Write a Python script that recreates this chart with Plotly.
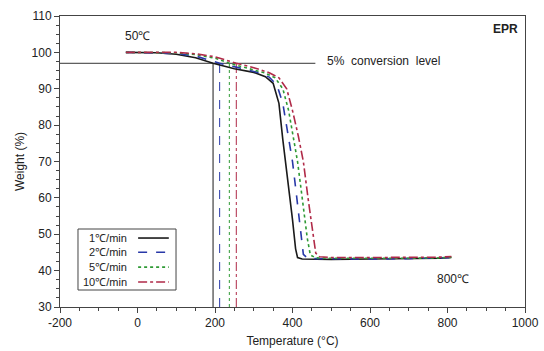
import plotly.graph_objects as go

# ---- data ----
series_names = ["1℃/min", "2℃/min", "5℃/min", "10℃/min"]

temp_1 = [-30, 50, 100, 150, 195, 250, 300, 330, 350, 365, 375, 382, 390, 400, 408, 413, 425, 500, 600, 700, 780, 810]
wt_1 = [100, 99.9, 99.5, 98.5, 97, 95.5, 94.5, 93.3, 91.5, 86, 76, 70, 64, 54, 46, 43.6, 43.2, 43.1, 43.2, 43.2, 43.4, 43.6]

temp_2 = [-30, 50, 100, 150, 212, 260, 310, 340, 360, 375, 390, 400, 410, 420, 428, 440, 500, 600, 700, 780, 810]
wt_2 = [100, 99.9, 99.7, 99.0, 97, 95.8, 94.5, 93.2, 91, 86, 77, 70, 61, 51, 44.5, 43.3, 43.2, 43.2, 43.3, 43.4, 43.6]

temp_5 = [-30, 100, 150, 200, 237, 280, 330, 355, 375, 390, 405, 413, 425, 438, 446, 460, 500, 600, 700, 780, 810]
wt_5 = [100, 99.9, 99.4, 98.4, 97, 95.8, 94.3, 93, 90, 84, 75, 70, 60, 49, 44.3, 43.5, 43.4, 43.3, 43.4, 43.5, 43.7]

temp_10 = [-30, 100, 150, 200, 255, 300, 340, 365, 385, 400, 415, 428, 440, 452, 460, 470, 500, 600, 700, 780, 810]
wt_10 = [100, 100, 99.6, 98.8, 97, 95.8, 94.4, 93, 90, 84, 77, 70, 60, 50, 44.8, 43.8, 43.6, 43.6, 43.6, 43.7, 43.9]

onset_temps = [195, 212, 237, 255]
conversion_level = 97
conversion_line_x = [-200, 459]
y_floor = 30

x_tickvals = [-200, 0, 200, 400, 600, 800, 1000]
x_ticktext = ["-200", "0", "200", "400", "600", "800", "1000"]

colors = ["#1a1a1a", "#2838a8", "#2f9a35", "#b02a48"]
dashes = ["solid", "dash", "dot", "dashdot"]

temps = [temp_1, temp_2, temp_5, temp_10]
wts = [wt_1, wt_2, wt_5, wt_10]

fig = go.Figure()

# 5% conversion level line
fig.add_trace(go.Scatter(x=conversion_line_x, y=[conversion_level, conversion_level],
                         mode="lines", line=dict(color="#333333", width=1),
                         showlegend=False, hoverinfo="skip"))

# onset verticals
for t, c, d in zip(onset_temps, colors, dashes):
    fig.add_trace(go.Scatter(x=[t, t], y=[y_floor, conversion_level], mode="lines",
                             line=dict(color=c, width=1, dash=d),
                             showlegend=False, hoverinfo="skip"))

for name, x, y, c, d in zip(series_names, temps, wts, colors, dashes):
    fig.add_trace(go.Scatter(x=x, y=y, mode="lines", name=name, showlegend=False,
                             line=dict(color=c, width=1.6, dash=d)))

# legend box (text right-aligned, sample line on the right, as in the reference)
legend_shapes = [dict(type="rect", xref="paper", yref="paper", x0=0.0387, x1=0.2495,
                      y0=0.0584, y1=0.268, line=dict(color="#444", width=1),
                      fillcolor="white", layer="above")]
legend_annots = []
row_y = [0.237, 0.188, 0.137, 0.086]
for name, c, d, ry in zip(series_names, colors, dashes, row_y):
    legend_shapes.append(dict(type="line", xref="paper", yref="paper", x0=0.168, x1=0.234,
                              y0=ry, y1=ry, line=dict(color=c, width=1.6, dash=d),
                              layer="above"))
    legend_annots.append(dict(x=0.149, y=ry, xref="paper", yref="paper", text=name,
                              showarrow=False, xanchor="right", yanchor="middle",
                              font=dict(size=11)))

axis_font = dict(family="Arial, Liberation Sans, sans-serif", size=12, color="#222")

fig.update_layout(
    width=544, height=351,
    margin=dict(l=60, r=19, t=16, b=44),
    paper_bgcolor="white", plot_bgcolor="white",
    font=axis_font,
    xaxis=dict(range=[-200, 1000], tickvals=x_tickvals, ticktext=x_ticktext,
               showgrid=False, zeroline=False, automargin=False,
               showline=True, linecolor="#444", linewidth=1, mirror=True,
               ticks="outside", ticklen=5, tickcolor="#444",
               minor=dict(dtick=50, tick0=0, ticks="outside", ticklen=3, tickcolor="#444"),
               title=dict(text="Temperature (°C)", font=dict(size=12), standoff=7),
               tickfont=dict(size=12)),
    yaxis=dict(range=[30, 110], dtick=10, showgrid=False, zeroline=False, automargin=False,
               showline=True, linecolor="#444", linewidth=1, mirror=True,
               ticks="outside", ticklen=5, tickcolor="#444",
               minor=dict(dtick=2.5, ticks="outside", ticklen=3, tickcolor="#444"),
               title=dict(text="Weight (%)", font=dict(size=12), standoff=4),
               tickfont=dict(size=12)),
    shapes=legend_shapes,
    annotations=[
        dict(x=0, y=104.5, xref="x", yref="y", text="50℃", showarrow=False,
             font=dict(size=12)),
        dict(x=813, y=37.6, xref="x", yref="y", text="800℃", showarrow=False,
             font=dict(size=12)),
        dict(x=483, y=97.6, xref="x", yref="y", text="5%  conversion  level", showarrow=False,
             xanchor="left", font=dict(size=12)),
        dict(x=0.99, y=0.985, xref="paper", yref="paper", text="<b>EPR</b>", showarrow=False,
             xanchor="right", yanchor="top", font=dict(size=12)),
    ] + legend_annots,
)

fig.write_html("out.html", config={"displayModeBar": False},
               post_script="document.body.style.margin='0';")
